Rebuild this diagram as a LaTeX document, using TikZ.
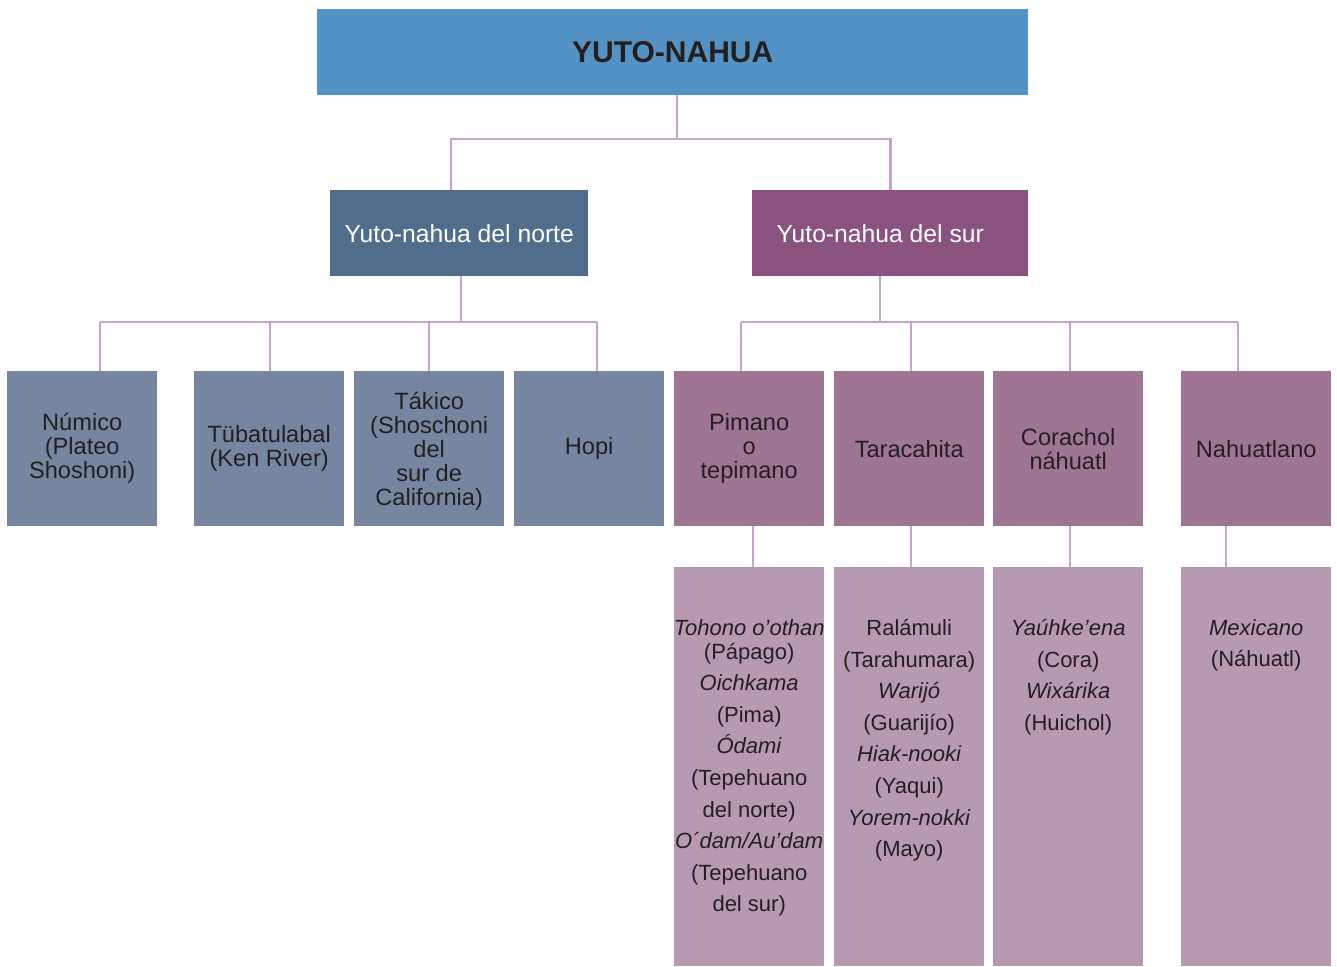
\documentclass[tikz,border=0pt]{standalone}
\usepackage{fontspec}
\setmainfont{Liberation Sans}
\definecolor{topblue}{HTML}{5592C4}
\definecolor{nortec}{HTML}{506E8B}
\definecolor{surc}{HTML}{8A527E}
\definecolor{nthree}{HTML}{7686A1}
\definecolor{sthree}{HTML}{9E7693}
\definecolor{sfour}{HTML}{B899B2}
\definecolor{linec}{HTML}{C3A6C8}
\definecolor{txt}{HTML}{231F20}
\begin{document}
\begin{tikzpicture}[x=1pt,y=-1pt,
  conn/.style={draw=linec, line width=2.8pt},
  box/.style={rectangle, inner sep=0pt, anchor=north west, align=center, text=txt},
  lvltwo/.style={box, minimum width=#1, minimum height=86pt, text=white, font=\fontsize{24.7}{26}\selectfont},
  nthr/.style={box, fill=nthree, minimum width=150pt, minimum height=155pt, font=\fontsize{23.6}{24}\selectfont},
  sthr/.style={box, fill=sthree, minimum width=150pt, minimum height=155pt, font=\fontsize{23.6}{24}\selectfont},
  sfr/.style={box, fill=sfour, minimum width=150pt, minimum height=399pt},
  sfrtext/.style={anchor=north, align=center, inner sep=0pt, text=txt, font=\fontsize{22}{31.6}\selectfont, yshift=-52pt}
]
\useasboundingbox (0,0) rectangle (1337,966);

% level 1
\node[box, fill=topblue, minimum width=711pt, minimum height=86pt, font=\fontsize{30}{32}\selectfont\bfseries] (top) at (317,9) {YUTO-NAHUA};

% level 2
\node[lvltwo=258pt, fill=nortec] (norte) at (330,190) {Yuto-nahua del norte};
\node[lvltwo=276pt, fill=surc, label={[text=white, font=\fontsize{24.7}{26}\selectfont, xshift=-10pt]center:Yuto-nahua del sur}] (sur) at (752,190) {};

% level 3 north
\node[nthr] (numico) at (7,371) {Númico\\(Plateo\\Shoshoni)};
\node[nthr] (tuba) at (194,371) {Tübatulabal\\(Ken River)};
\node[nthr, label={[align=center, inner sep=0pt, text=txt, font=\fontsize{23.6}{24}\selectfont, yshift=-3pt]center:{Tákico\\(Shoschoni\\del\\sur de\\California)}}] (takico) at (354,371) {};
\node[nthr] (hopi) at (514,371) {Hopi};

% level 3 south
\node[sthr] (pimano) at (674,371) {Pimano\\o\\tepimano};
\node[sthr] (tara) at (834,371) {Taracahita};
\node[sthr] (cora) at (993,371) {Corachol\\náhuatl};
\node[sthr] (nahua) at (1181,371) {Nahuatlano};

% level 4
\node[sfr, label={[sfrtext]north:{\textit{Tohono o’othan}\\[-7.6pt](Pápago)\\\textit{Oichkama}\\(Pima)\\\textit{Ódami}\\(Tepehuano\\del norte)\\\textit{O´dam/Au’dam}\\(Tepehuano\\del sur)}}] (pimlang) at (674,567) {};
\node[sfr, label={[sfrtext]north:{Ralámuli\\(Tarahumara)\\\textit{Warijó}\\(Guarijío)\\\textit{Hiak-nooki}\\(Yaqui)\\\textit{Yorem-nokki}\\(Mayo)}}] (taralang) at (834,567) {};
\node[sfr, label={[sfrtext]north:{\textit{Yaúhke’ena}\\(Cora)\\\textit{Wixárika}\\(Huichol)}}] (coralang) at (993,567) {};
\node[sfr, label={[sfrtext]north:{\textit{Mexicano}\\(Náhuatl)}}] (nahualang) at (1181,567) {};

% connectors level 1 -> 2
\coordinate (b0) at (677,139);
\coordinate (bn) at (451,139);
\draw[conn] (top.south -| b0) -- (b0);
\draw[conn] (norte.north -| bn) -- (bn) -| (sur.north);

% connectors norte -> level 3
\coordinate (nb) at (461,322);
\coordinate (n1) at (100,322);
\coordinate (n2) at (270,322);
\coordinate (n3) at (429,322);
\coordinate (n4) at (597,322);
\draw[conn] (norte.south -| nb) -- (nb);
\draw[conn] (n1) -- (n4);
\draw[conn] (n1) -- (numico.north -| n1);
\draw[conn] (n2) -- (tuba.north -| n2);
\draw[conn] (n3) -- (takico.north -| n3);
\draw[conn] (n4) -- (hopi.north -| n4);

% connectors sur -> level 3
\coordinate (sb) at (880,322);
\coordinate (s1) at (741,322);
\coordinate (s2) at (911,322);
\coordinate (s3) at (1070,322);
\coordinate (s4) at (1238,322);
\draw[conn] (sur.south -| sb) -- (sb);
\draw[conn] (s1) -- (s4);
\draw[conn] (s1) -- (pimano.north -| s1);
\draw[conn] (s2) -- (tara.north -| s2);
\draw[conn] (s3) -- (cora.north -| s3);
\draw[conn] (s4) -- (nahua.north -| s4);

% connectors level 3 -> level 4
\coordinate (d1) at (753,0);
\coordinate (d2) at (911,0);
\coordinate (d3) at (1070,0);
\coordinate (d4) at (1226,0);
\draw[conn] (pimano.south -| d1) -- (pimlang.north -| d1);
\draw[conn] (tara.south -| d2) -- (taralang.north -| d2);
\draw[conn] (cora.south -| d3) -- (coralang.north -| d3);
\draw[conn] (nahua.south -| d4) -- (nahualang.north -| d4);
\end{tikzpicture}
\end{document}
